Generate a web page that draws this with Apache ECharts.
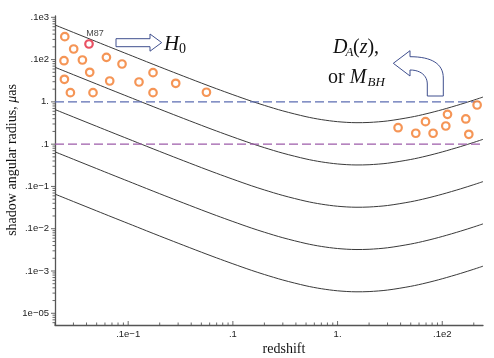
<!DOCTYPE html>
<html><head><meta charset="utf-8">
<script src="https://cdn.jsdelivr.net/npm/echarts@6/dist/echarts.min.js"></script>
<style>html,body{margin:0;padding:0;background:#fff}#c{width:494px;height:358px}</style>
</head><body><div id="c"></div>
<script>
// ---- data ----
const redshift = [0.002,0.003,0.005,0.007,0.01,0.015,0.02,0.03,0.05,0.07,0.1,0.15,0.2,0.3,0.5,0.7,1,1.5,2,3,5,7,10,15,20,24.5];
const curve1 = [65.8,43.9,26.4,18.9,13.3,8.91,6.72,4.54,2.79,2.04,1.48,1.04,0.826,0.612,0.446,0.381,0.340,0.322,0.326,0.354,0.434,0.521,0.655,0.878,1.10,1.30];
const curve2 = [6.58,4.39,2.64,1.89,1.33,0.891,0.672,0.454,0.279,0.204,0.148,0.104,0.0826,0.0612,0.0446,0.0381,0.0340,0.0322,0.0326,0.0354,0.0434,0.0521,0.0655,0.0878,0.110,0.130];
const curve3 = [0.658,0.439,0.264,0.189,0.133,0.0891,0.0672,0.0454,0.0279,0.0204,0.0148,0.0104,0.00826,0.00612,0.00446,0.00381,0.00340,0.00322,0.00326,0.00354,0.00434,0.00521,0.00655,0.00878,0.0110,0.0130];
const curve4 = [0.0658,0.0439,0.0264,0.0189,0.0133,0.00891,0.00672,0.00454,0.00279,0.00204,0.00148,0.00104,0.000826,0.000612,0.000446,0.000381,0.000340,0.000322,0.000326,0.000354,0.000434,0.000521,0.000655,0.000878,0.00110,0.00130];
const curve5 = [0.00658,0.00439,0.00264,0.00189,0.00133,0.000891,0.000672,0.000454,0.000279,0.000204,0.000148,0.000104,0.0000826,0.0000612,0.0000446,0.0000381,0.0000340,0.0000322,0.0000326,0.0000354,0.0000434,0.0000521,0.0000655,0.0000878,0.000110,0.000130];
const dashedLevels = [1, 0.1];
const sourcesLowZ = [[0.00248,34.8],[0.003016,17.8],[0.002438,9.41],[0.003654,9.78],[0.006196,11.3],[0.008733,7.86],[0.004291,5.01],[0.002459,3.42],[0.006662,3.12],[0.01269,2.95],[0.01727,4.90],[0.02845,2.75],[0.002806,1.65],[0.004614,1.65],[0.01727,1.65],[0.05591,1.69]];
const sourcesHighZ = [[21.52,0.844],[11.22,0.508],[16.78,0.394],[6.916,0.340],[10.81,0.269],[3.784,0.245],[5.586,0.181],[8.175,0.181],[17.93,0.171]];
const m87 = [0.004225, 23.4];
const xTickValues = [0.01, 0.1, 1, 10];
const xTickLabels = ['.1e\u22121', '.1', '1.', '.1e2'];
const yTickValues = [100, 10, 1, 0.1, 0.01, 0.001, 0.0001, 0.00001];
const yTickLabels = ['.1e3', '.1e2', '1.', '.1', '.1e\u22121', '.1e\u22122', '.1e\u22123', '1e\u221205'];
const xRange = [0.002, 24.5];
const yRange = [5.28e-6, 107.4];

// ---- build ----
function fmt(vals, labels) {
  return function (v) {
    const lv = Math.log10(v);
    for (let i = 0; i < vals.length; i++) if (Math.abs(Math.log10(vals[i]) - lv) < 1e-6) return labels[i];
    return '';
  };
}
function minorTicks(lo, hi) {
  const out = [];
  for (let d = Math.floor(Math.log10(lo)); d <= Math.ceil(Math.log10(hi)); d++) {
    for (let m = 2; m <= 9; m++) { const v = m * Math.pow(10, d); if (v >= lo && v <= hi) out.push(v); }
  }
  return out;
}
const xMinor = minorTicks(xRange[0], xRange[1]);
const yMinor = minorTicks(yRange[0], yRange[1]);
const tickColor = '#444';

function curve(vals) {
  return { type: 'line', data: redshift.map((z, i) => [z, vals[i]]), showSymbol: false, smooth: 0.3,
    lineStyle: { color: '#3a3a3a', width: 1 }, silent: true, z: 2 };
}
const dashColors = ['#5c6db2', '#9d5ca9'];

const series = [curve1, curve2, curve3, curve4, curve5].map(curve);
dashedLevels.forEach((lv, i) => series.push({
  type: 'line', data: [[xRange[0], lv], [xRange[1], lv]], showSymbol: false,
  lineStyle: { color: dashColors[i], width: 1.2, type: [9, 4] }, silent: true, z: 3 }));
series.push({ type: 'scatter', data: sourcesLowZ.concat(sourcesHighZ), symbol: 'circle', symbolSize: 7.5,
  itemStyle: { color: '#fff', borderColor: '#f27a2c', borderWidth: 2.2 }, silent: true, z: 5 });
series.push({ type: 'scatter', data: [m87], symbol: 'circle', symbolSize: 7.5,
  itemStyle: { color: '#fff', borderColor: '#e3263c', borderWidth: 2.2 }, silent: true, z: 6,
  label: { show: true, formatter: 'M87', position: 'inside', offset: [6, -10], fontFamily: 'Liberation Sans', fontSize: 9, color: '#111' } });
// axis ticks
series.push({ type: 'scatter', data: xMinor.map(v => [v, yRange[0]]), symbol: 'rect', symbolSize: [1, 2.5], symbolOffset: [0, -1.25], itemStyle: { color: tickColor }, clip: false, silent: true, z: 7 });
series.push({ type: 'scatter', data: xTickValues.map(v => [v, yRange[0]]), symbol: 'rect', symbolSize: [1, 4], symbolOffset: [0, -2], itemStyle: { color: tickColor }, clip: false, silent: true, z: 7 });
series.push({ type: 'scatter', data: yMinor.map(v => [xRange[0], v]), symbol: 'rect', symbolSize: [2.5, 1], symbolOffset: [-1.25, 0], itemStyle: { color: tickColor }, clip: false, silent: true, z: 7 });
series.push({ type: 'scatter', data: yTickValues.map(v => [xRange[0], v]), symbol: 'rect', symbolSize: [4, 1], symbolOffset: [-2, 0], itemStyle: { color: tickColor }, clip: false, silent: true, z: 7 });

// curved arrow outline (decoration)
function bez(p0, p1, p2, p3, n) {
  const pts = [];
  for (let i = 0; i <= n; i++) {
    const t = i / n, u = 1 - t;
    pts.push([u*u*u*p0[0] + 3*u*u*t*p1[0] + 3*u*t*t*p2[0] + t*t*t*p3[0],
              u*u*u*p0[1] + 3*u*u*t*p1[1] + 3*u*t*t*p2[1] + t*t*t*p3[1]]);
  }
  return pts;
}
const curvedArrow = [[427.3,96],[443.3,96]]
  .concat(bez([443.3,78],[443.3,64],[432,56.7],[410,56.7],16))
  .concat([[410,50.7],[393.3,63.3],[410,76]])
  .concat(bez([410,70],[421,70],[427.3,76],[427.3,84],12));

const serif = '"Liberation Serif", "DejaVu Serif", serif';
const arrowColor = '#3f4f8e';
const graphic = [
  { type: 'polygon', shape: { points: [[116,38.7],[150,38.7],[150,34],[161.7,42.6],[150,51.2],[150,46.7],[116,46.7]] },
    style: { fill: '#fff', stroke: arrowColor, lineWidth: 1 }, z: 10 },
  { type: 'polygon', shape: { points: curvedArrow },
    style: { fill: '#fff', stroke: arrowColor, lineWidth: 1 }, z: 10 },
  { type: 'text', x: 164, y: 44, style: { text: 'H', font: 'italic 21px ' + serif, fill: '#111', textAlign: 'left', textVerticalAlign: 'middle' }, z: 10 },
  { type: 'text', x: 179, y: 49, style: { text: '0', font: '14px ' + serif, fill: '#111', textAlign: 'left', textVerticalAlign: 'middle' }, z: 10 },
  { type: 'text', x: 333, y: 48, style: { text: 'D', font: 'italic 20px ' + serif, fill: '#111', textAlign: 'left', textVerticalAlign: 'middle' }, z: 10 },
  { type: 'text', x: 345.5, y: 52.5, style: { text: 'A', font: 'italic 13px ' + serif, fill: '#111', textAlign: 'left', textVerticalAlign: 'middle' }, z: 10 },
  { type: 'text', x: 353, y: 48, style: { text: '{n|(}{i|z}{n|),}', fill: '#111', textAlign: 'left', textVerticalAlign: 'middle',
      rich: { n: { font: '20px ' + serif, fill: '#111' }, i: { font: 'italic 20px ' + serif, fill: '#111' } } }, z: 10 },
  { type: 'text', x: 328, y: 78, style: { text: '{n|or }{i|M}', fill: '#111', textAlign: 'left', textVerticalAlign: 'middle',
      rich: { n: { font: '20px ' + serif, fill: '#111' }, i: { font: 'italic 20px ' + serif, fill: '#111' } } }, z: 10 },
  { type: 'text', x: 367.5, y: 83, style: { text: 'BH', font: 'italic 13px ' + serif, fill: '#111', textAlign: 'left', textVerticalAlign: 'middle' }, z: 10 },
  { type: 'text', x: 284, y: 349, style: { text: 'redshift', font: '14px ' + serif, fill: '#111', textAlign: 'center', textVerticalAlign: 'middle' }, z: 10 },
  { type: 'text', x: 12, y: 160, rotation: Math.PI / 2,
    style: { text: '{n|shadow angular radius, }{i|\u03bc}{n|as}', fill: '#111', textAlign: 'center', textVerticalAlign: 'middle',
      rich: { n: { font: '14px ' + serif, fill: '#111' }, i: { font: 'italic 14px ' + serif, fill: '#111' } } }, z: 10 }
];

const chart = echarts.init(document.getElementById('c'), null, { renderer: 'canvas' });
chart.setOption({
  animation: false,
  backgroundColor: '#fff',
  grid: { left: 55, right: 11, top: 16, bottom: 33, containLabel: false },
  xAxis: { type: 'log', logBase: 10, min: xRange[0], max: xRange[1],
    axisLine: { show: true, lineStyle: { color: '#555', width: 1.3 } }, axisTick: { show: false }, splitLine: { show: false }, minorTick: { show: false },
    axisLabel: { formatter: fmt(xTickValues, xTickLabels), fontFamily: 'Liberation Sans', fontSize: 9.5, color: '#222', margin: 4 } },
  yAxis: { type: 'log', logBase: 10, min: yRange[0], max: yRange[1],
    axisLine: { show: true, lineStyle: { color: '#555', width: 1.3 } }, axisTick: { show: false }, splitLine: { show: false }, minorTick: { show: false },
    axisLabel: { formatter: fmt(yTickValues, yTickLabels), fontFamily: 'Liberation Sans', fontSize: 9.5, color: '#222', margin: 6 } },
  series: series,
  graphic: graphic
});
</script></body></html>
